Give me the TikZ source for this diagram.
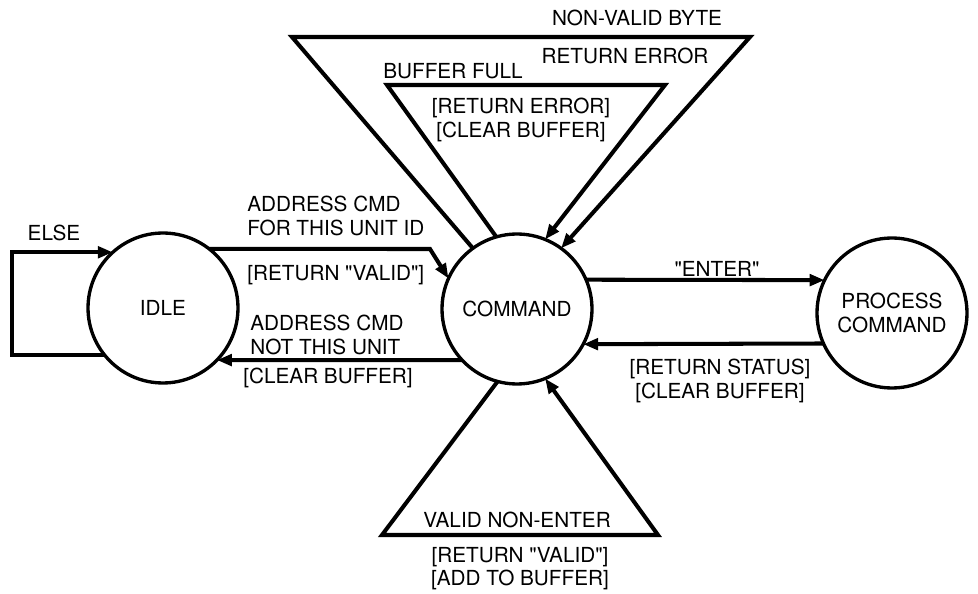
\documentclass[tikz,border=0pt]{standalone}
\usepackage{fontspec}
\setmainfont{TeX Gyre Heros}
\usetikzlibrary{arrows.meta}
\usetikzlibrary{positioning}

\begin{document}
\begin{tikzpicture}[x=0.02cm, y=-0.02cm,
        state_node/.style = {draw, circle, line width=1.9pt, minimum size=3cm, inner sep=0pt, outer sep=0pt,
            font=\fontsize{11.8}{13.5}\selectfont, align=center},
        trans/.style = {line width=2.3pt, -{Triangle[length=8.5pt,width=6.5pt]}},
        lbl/.style = {font=\fontsize{11.8}{13.2}\selectfont, inner sep=0pt, align=center}]

        \useasboundingbox (0,0) rectangle (978,594);

        % Define states
        \node[state_node] (idle) at (163,308) {IDLE};
        \node[state_node] (command) at (517,309) {COMMAND};
        \node[state_node] (process_cmd) at (892,313) {PROCESS\\COMMAND};

        % Corner points of the transitions
        \coordinate (loop_corner) at (12,300);
        \coordinate (bend_valid) at (430,249);
        \coordinate (nv_left) at (292,37);
        \coordinate (nv_right) at (750,37);
        \coordinate (bf_left) at (387,85);
        \coordinate (bf_right) at (665,85);
        \coordinate (vn_left) at (382,535);
        \coordinate (vn_right) at (658,535);

        % Transitions
        \draw[trans] (idle.219) -| (loop_corner) |- (idle.132);
        \draw[trans] (idle.52) -- (bend_valid) -- (command.156);
        \draw[trans] (command.223) -- (idle.316);
        \draw[trans] (command.23) -- (process_cmd.154);
        \draw[trans] (process_cmd.204) -- (command.332);
        \draw[trans] (command.126) -- (nv_left) -- (nv_right) -- (command.54);
        \draw[trans] (command.106) -- (bf_left) -- (bf_right) -- (command.68);
        \draw[trans] (command.255) -- (vn_left) -- (vn_right) -- (command.292);

        % Labels
        \node[lbl] (else_lbl) at (54,233) {ELSE};
        \node[lbl, anchor=west, align=left] (addr_this) at (247,216) {ADDRESS CMD\\FOR THIS UNIT ID};
        \node[lbl, anchor=west] (ret_valid) at (247,275) {[RETURN \textquotedbl VALID\textquotedbl]};
        \node[lbl, anchor=west, align=left] (addr_not) at (250,335) {ADDRESS CMD\\NOT THIS UNIT};
        \node[lbl, anchor=west] (clr_idle) at (243,378) {[CLEAR BUFFER]};
        \node[lbl] (nv_lbl) at (637,18) {NON-VALID BYTE};
        \node[lbl] (nv_act) at (625,56) {RETURN ERROR};
        \node[lbl] (bf_lbl) at (453,71) {BUFFER FULL};
        \node[lbl] (bf_act) at (521,120) {[RETURN ERROR]\\{}[CLEAR BUFFER]};
        \node[lbl] (enter_lbl) at (717,269) {\textquotedbl ENTER\textquotedbl};
        \node[lbl] (status_act) at (720,381) {[RETURN STATUS]\\{}[CLEAR BUFFER]};
        \node[lbl] (vn_lbl) at (517,520) {VALID NON-ENTER};
        \node[lbl] (vn_act) at (520,569) {[RETURN \textquotedbl VALID\textquotedbl]\\{}[ADD TO BUFFER]};
    \end{tikzpicture}
\end{document}
